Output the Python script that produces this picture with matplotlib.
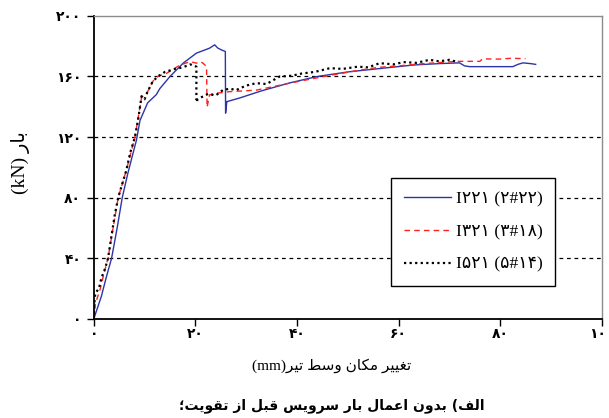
import numpy as np
import matplotlib
matplotlib.use("Agg")
import matplotlib.pyplot as plt

# --- data ---
x_i221 = [0, 0.2, 1.5, 2.5, 3.5, 4.6, 5.6, 6.7, 7.7, 8.4, 9.1, 10.6, 12.3, 13.0, 15.0,
          17.6, 20.2, 22.8, 23.8, 24.4, 25.1, 25.9, 25.95, 26.2, 28.7, 33, 38.6, 44, 50,
          57, 63, 68, 72, 73, 74, 82.5, 83.5, 84.5, 86, 87]
y_i221 = [0, 2, 15, 28, 40, 60, 80, 96, 109, 118, 131, 142.6, 148, 152, 160,
          168.8, 175.4, 178.7, 180.9, 178.8, 177.6, 176.5, 135.8, 143.4, 145.8, 150.5, 155.8, 160, 163,
          165.5, 167.6, 168.5, 169, 167, 166.5, 166.5, 168, 169, 168.5, 168]

x_i321 = [0, 0.1, 0.3, 1.2, 2.0, 2.8, 3.8, 4.8, 6.4, 8.1, 9.4, 10.6, 11.6, 12.6, 14.3,
          17.0, 19.0, 20.2, 20.9, 21.5, 22.2, 22.3, 22.8, 24.2, 26.8, 32, 38.6, 43, 47,
          52, 56, 60, 65, 71.5, 76, 76.5, 80, 82, 85]
y_i321 = [0, 4, 10, 19, 30, 40, 60, 80, 98, 120, 146, 150, 156.7, 160, 162,
          167.6, 169.8, 168.8, 169.8, 168.8, 166.6, 139.7, 147.9, 149, 150, 151, 155.6, 158.5, 161,
          164, 166, 167, 168.5, 170, 170, 171.6, 171.5, 172, 171.8]

x_i521 = [0, 0.1, 0.3, 1.0, 1.5, 2.2, 2.8, 3.5, 4.1, 4.8, 5.5, 6.4, 7.2, 8.1, 8.8,
          9.4, 10.0, 10.6, 11.6, 12.6, 14, 16, 17.5, 19, 20.2, 20.2, 19.9, 21, 22.5, 24,
          25.4, 26.8, 28, 30, 32, 34, 36.6, 39, 41, 43.5, 46.5, 49, 52, 54, 56.3,
          59, 61, 63.5, 66.1, 68, 70, 71.4]
y_i521 = [0, 10, 17, 20, 27, 33, 40, 55, 68, 80, 88, 98, 110, 120, 133,
          147, 145, 150, 156.7, 160, 163, 165, 166, 168, 166.5, 144.5, 143.5, 146, 148.5, 147.5,
          151, 152, 151, 154, 155.6, 155, 160, 160.5, 162, 163, 165.5, 165, 166.5, 166, 168.8,
          168, 169.5, 169, 171, 170, 171, 169.8]

x_ticks = [0, 20, 40, 60, 80, 100]
y_ticks = [0, 40, 80, 120, 160, 200]
legend_labels = ["I۲۲۱ (۲#۲۲)", "I۳۲۱ (۳#۱۸)", "I۵۲۱ (۵#۱۴)"]
x_label_fa = "تغییر مکان وسط تیر"
y_label_fa = "بار"
caption_fa = "الف) بدون اعمال بار سرویس قبل از تقویت؛"

# --- minimal arabic shaping (matplotlib has no bidi/shaping) ---
FORMS = {
    'ا': (0xFE8D, 0xFE8E, None, None), 'ب': (0xFE8F, 0xFE90, 0xFE91, 0xFE92),
    'ت': (0xFE95, 0xFE96, 0xFE97, 0xFE98), 'د': (0xFEA9, 0xFEAA, None, None),
    'ر': (0xFEAD, 0xFEAE, None, None), 'ز': (0xFEAF, 0xFEB0, None, None),
    'س': (0xFEB1, 0xFEB2, 0xFEB3, 0xFEB4), 'ط': (0xFEC1, 0xFEC2, 0xFEC3, 0xFEC4),
    'ع': (0xFEC9, 0xFECA, 0xFECB, 0xFECC), 'غ': (0xFECD, 0xFECE, 0xFECF, 0xFED0),
    'ف': (0xFED1, 0xFED2, 0xFED3, 0xFED4), 'ق': (0xFED5, 0xFED6, 0xFED7, 0xFED8),
    'ک': (0xFB8E, 0xFB8F, 0xFB90, 0xFB91), 'ل': (0xFEDD, 0xFEDE, 0xFEDF, 0xFEE0),
    'م': (0xFEE1, 0xFEE2, 0xFEE3, 0xFEE4), 'ن': (0xFEE5, 0xFEE6, 0xFEE7, 0xFEE8),
    'و': (0xFEED, 0xFEEE, None, None), 'ی': (0xFBFC, 0xFBFD, 0xFBFE, 0xFBFF),
}
MIRROR = {'(': ')', ')': '('}


def rtl(text):
    out = []
    for i, ch in enumerate(text):
        if ch not in FORMS:
            out.append(MIRROR.get(ch, ch))
            continue
        iso, fin, ini, med = FORMS[ch]
        prev = text[i - 1] if i > 0 else ''
        nxt = text[i + 1] if i + 1 < len(text) else ''
        join_prev = prev in FORMS and FORMS[prev][2] is not None
        join_next = nxt in FORMS and ini is not None
        if join_prev and join_next:
            out.append(chr(med))
        elif join_prev:
            out.append(chr(fin))
        elif join_next:
            out.append(chr(ini))
        else:
            out.append(chr(iso))
    return ''.join(reversed(out))


fa_font = ['Liberation Serif', 'DejaVu Sans']
plt.rcParams['font.family'] = fa_font

fig = plt.figure(figsize=(6.09, 4.18), dpi=100)
ax = fig.add_axes([0.154, 0.237, 0.834, 0.725])

ax.plot(x_i221, y_i221, color='#2b35a8', lw=1.0, label=legend_labels[0])
ax.plot(x_i321, y_i321, color='#ff2020', lw=1.0, ls=(0, (4, 3)), label=legend_labels[1])
ax.plot(x_i521, y_i521, color='black', lw=1.6, ls=(0, (1, 1.5)), label=legend_labels[2])

ax.set_xlim(0, 100)
ax.set_ylim(0, 200)
ax.set_xticks(x_ticks)
ax.set_yticks(y_ticks)
fa_digits = str.maketrans('0123456789', '۰۱۲۳۴۵۶۷۸۹')
ax.set_xticklabels([str(v).translate(fa_digits) for v in x_ticks], family='DejaVu Sans',
                   fontsize=10, fontweight='bold')
ax.set_yticklabels([str(v).translate(fa_digits) for v in y_ticks], family='DejaVu Sans',
                   fontsize=10, fontweight='bold')
ax.tick_params(direction='out', length=5, width=1)
ax.tick_params(axis='x', pad=1)
ax.tick_params(axis='y', pad=4)

for v in y_ticks[1:-1]:
    ax.axhline(v, color='black', lw=0.9, ls=(0, (3, 3)), zorder=0)

for s in ['left', 'bottom']:
    ax.spines[s].set_color('black')
    ax.spines[s].set_linewidth(1.3)
for s in ['top', 'right']:
    ax.spines[s].set_color('#8c8c8c')
    ax.spines[s].set_linewidth(1.0)

leg = ax.legend(loc='upper left', bbox_to_anchor=(0.569, 0.493), fontsize=12.5,
                handlelength=2.7, fancybox=False, framealpha=1, borderpad=0.75,
                labelspacing=0.95, handletextpad=0.25)
leg.get_frame().set_edgecolor('black')
leg.get_frame().set_linewidth(1.0)

fig.text(0.033, 0.61, "(kN) " + rtl(y_label_fa), rotation=90, ha='center', va='center',
         fontsize=14, family=fa_font)
fig.text(0.545, 0.125, "(mm)" + rtl(x_label_fa), ha='center', va='center',
         fontsize=11, family=fa_font)
fig.text(0.545, 0.03, rtl(caption_fa), ha='center', va='center', fontsize=10,
         fontweight='bold', family=['DejaVu Sans'])

fig.savefig('out.png', dpi=100)
